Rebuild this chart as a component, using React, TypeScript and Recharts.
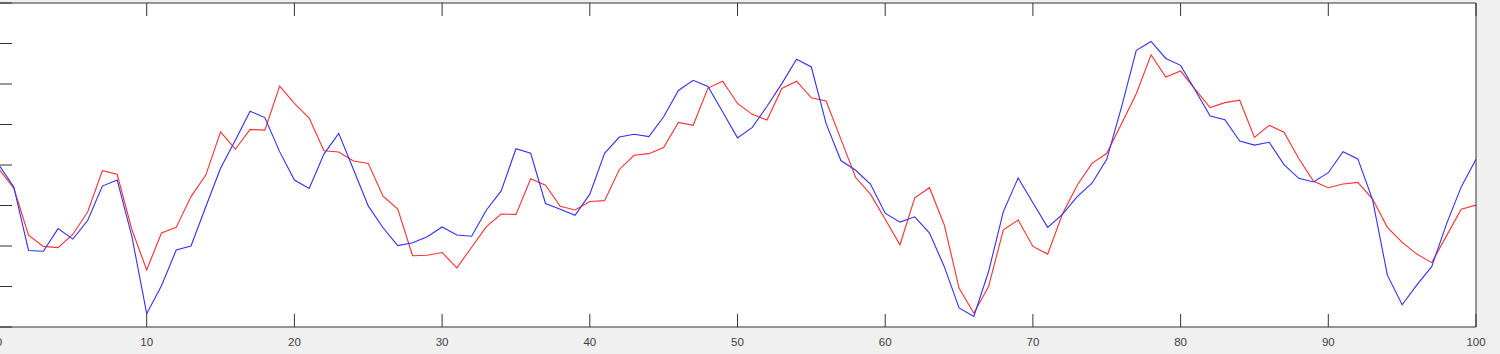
import React from "react";
import { LineChart, Line, XAxis, YAxis, CartesianGrid } from "recharts";

const blueSeries: number[] = [
  4.0, 3.46, 1.89, 1.87, 2.43, 2.17, 2.63, 3.48, 3.63, 2.23,
  0.33, 1.02, 1.9, 2.0, 2.97, 3.92, 4.61, 5.33, 5.17, 4.33,
  3.63, 3.42, 4.27, 4.78, 3.89, 2.99, 2.45, 2.01, 2.08, 2.23,
  2.47, 2.27, 2.24, 2.89, 3.36, 4.4, 4.29, 3.05, 2.91, 2.76,
  3.28, 4.29, 4.69, 4.76, 4.7, 5.19, 5.84, 6.09, 5.94, 5.31,
  4.67, 4.93, 5.45, 6.01, 6.61, 6.42, 5.02, 4.11, 3.87, 3.53,
  2.81, 2.59, 2.72, 2.32, 1.49, 0.47, 0.26, 1.37, 2.85, 3.68,
  3.07, 2.46, 2.78, 3.22, 3.55, 4.14, 5.43, 6.83, 7.05, 6.63,
  6.46, 5.84, 5.21, 5.12, 4.59, 4.49, 4.56, 4.01, 3.67, 3.58,
  3.81, 4.33, 4.15, 3.14, 1.28, 0.55, 1.04, 1.49, 2.54, 3.46,
  4.14,
];

const redSeries: number[] = [
  3.9, 3.43, 2.27, 1.99, 1.96, 2.29, 2.84, 3.86, 3.77, 2.4,
  1.41, 2.32, 2.46, 3.22, 3.75, 4.82, 4.39, 4.88, 4.86, 5.95,
  5.52, 5.16, 4.35, 4.32, 4.1, 4.04, 3.23, 2.91, 1.76, 1.77,
  1.84, 1.46, 1.97, 2.48, 2.79, 2.78, 3.66, 3.5, 2.98, 2.89,
  3.1, 3.12, 3.89, 4.24, 4.28, 4.43, 5.05, 4.98, 5.9, 6.07,
  5.52, 5.25, 5.11, 5.89, 6.07, 5.66, 5.58, 4.64, 3.69, 3.28,
  2.66, 2.03, 3.19, 3.44, 2.52, 0.96, 0.34, 1.0, 2.4, 2.64,
  1.99, 1.8, 2.79, 3.5, 4.04, 4.29, 5.02, 5.76, 6.72, 6.17,
  6.32, 5.86, 5.42, 5.54, 5.6, 4.68, 4.98, 4.81, 4.16, 3.6,
  3.44, 3.53, 3.57, 3.16, 2.46, 2.09, 1.8, 1.59, 2.25, 2.91,
  3.01,
];

const xTicks: number[] = [0, 10, 20, 30, 40, 50, 60, 70, 80, 90, 100];
const yTicks: number[] = [0, 1, 2, 3, 4, 5, 6, 7, 8];

const data = blueSeries.map((b, i) => ({ x: i, blue: b, red: redSeries[i] }));

const AXIS = "#333333";
const LABEL = "#404040";
const FONT = "'Liberation Sans', Arial, Helvetica, sans-serif";

export default function App() {
  return (
    <div
      style={{
        position: "absolute",
        left: 0,
        top: 0,
        width: 1500,
        height: 354,
        background: "#f0f0f0",
        overflow: "hidden",
      }}
    >
      <LineChart
        width={1500}
        height={354}
        data={data}
        margin={{ top: 2, right: 23, bottom: 26, left: -2 }}
      >
        <CartesianGrid fill="#ffffff" horizontal={false} vertical={false} />
        <XAxis
          dataKey="x"
          type="number"
          domain={[0, 100]}
          ticks={xTicks}
          interval={0}
          height={1}
          tickSize={-13}
          tickMargin={24}
          axisLine={{ stroke: AXIS, strokeWidth: 1 }}
          tickLine={{ stroke: AXIS, strokeWidth: 1 }}
          tick={{ fill: LABEL, fontSize: 11.5, fontFamily: FONT }}
        />
        <XAxis
          xAxisId="top"
          orientation="top"
          dataKey="x"
          type="number"
          domain={[0, 100]}
          ticks={xTicks}
          interval={0}
          height={1}
          tickSize={-13}
          tickFormatter={() => ""}
          axisLine={{ stroke: AXIS, strokeWidth: 1 }}
          tickLine={{ stroke: AXIS, strokeWidth: 1 }}
        />
        <YAxis
          type="number"
          domain={[0, 8]}
          ticks={yTicks}
          interval={0}
          width={1}
          tickSize={-13}
          tickFormatter={() => ""}
          axisLine={{ stroke: AXIS, strokeWidth: 1 }}
          tickLine={{ stroke: AXIS, strokeWidth: 1 }}
        />
        <YAxis
          yAxisId="right"
          orientation="right"
          type="number"
          domain={[0, 8]}
          ticks={yTicks}
          interval={0}
          width={1}
          tickSize={-13}
          tickFormatter={() => ""}
          axisLine={{ stroke: AXIS, strokeWidth: 1 }}
          tickLine={{ stroke: AXIS, strokeWidth: 1 }}
        />
        <Line
          dataKey="red"
          stroke="#ff3030"
          strokeWidth={1.1}
          dot={false}
          activeDot={false}
          isAnimationActive={false}
        />
        <Line
          dataKey="blue"
          stroke="#3030ff"
          strokeWidth={1.1}
          dot={false}
          activeDot={false}
          isAnimationActive={false}
        />
      </LineChart>
    </div>
  );
}
